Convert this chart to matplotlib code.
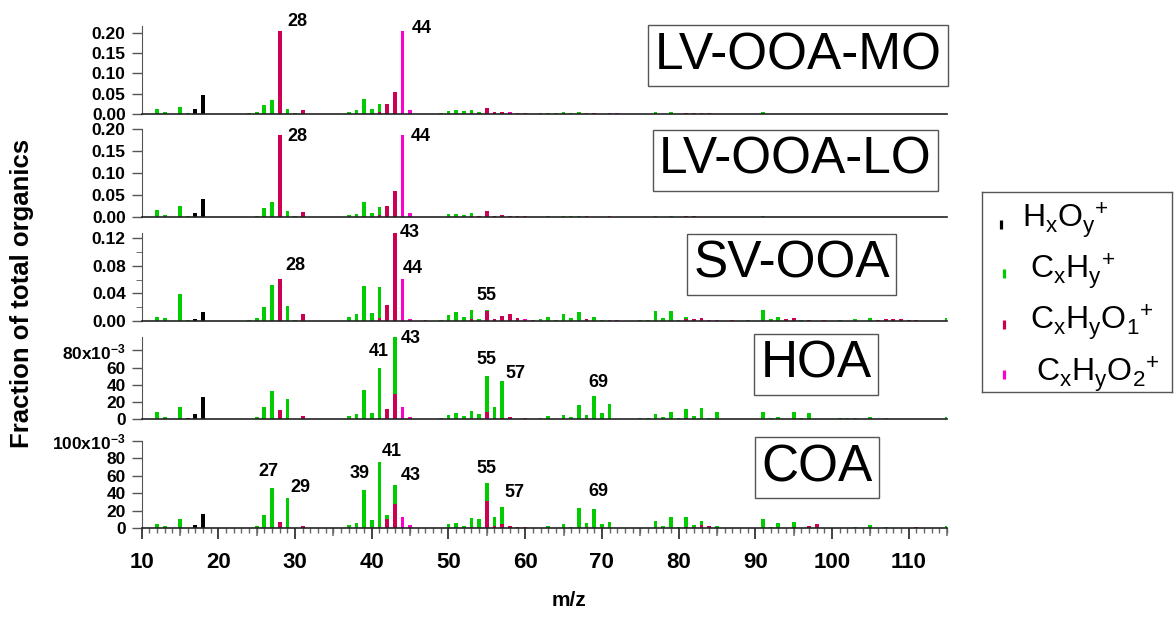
import numpy as np
import matplotlib
matplotlib.use("Agg")
import matplotlib.pyplot as plt
from matplotlib.ticker import FixedLocator, MultipleLocator, FixedFormatter

plt.rcParams['font.family'] = ['Liberation Sans', 'DejaVu Sans']
plt.rcParams['mathtext.fontset'] = 'custom'
plt.rcParams['mathtext.rm'] = 'Liberation Sans'
plt.rcParams['mathtext.it'] = 'Liberation Sans'
plt.rcParams['mathtext.bf'] = 'Liberation Sans:bold'

W, H = 1176, 619

# m/z range shown on the x axis
mz_min, mz_max = 10, 115
mz = np.arange(12, 116)

# ---- LV-OOA-MO ----
mo_ho = {16: 0.001, 17: 0.0116, 18: 0.046}
mo_ch = {12: 0.011, 13: 0.003, 15: 0.0166, 16: 0.001, 24: 0.001, 25: 0.005, 26: 0.0216,
         27: 0.034, 29: 0.011, 30: 0.002, 37: 0.005, 38: 0.009, 39: 0.0365, 40: 0.011,
         41: 0.019, 49: 0.001, 50: 0.007, 51: 0.009, 52: 0.006, 53: 0.007, 54: 0.002,
         62: 0.001, 63: 0.002, 64: 0.001, 65: 0.003, 66: 0.002, 67: 0.003, 69: 0.001,
         77: 0.003, 79: 0.003, 91: 0.003}
mo_cho1 = {28: 0.205, 31: 0.009, 41: 0.005, 42: 0.024, 43: 0.055, 53: 0.002, 54: 0.002,
           55: 0.014, 56: 0.004, 57: 0.004, 58: 0.002, 59: 0.001, 68: 0.002, 69: 0.001,
           81: 0.002, 83: 0.001}
mo_cho2 = {44: 0.205, 45: 0.008, 58: 0.001, 60: 0.002, 71: 0.002, 72: 0.001, 82: 0.002, 84: 0.001}

# ---- LV-OOA-LO ----
lo_ho = {16: 0.001, 17: 0.0098, 18: 0.042}
lo_ch = {12: 0.017, 13: 0.005, 15: 0.0265, 16: 0.003, 24: 0.001, 25: 0.004, 26: 0.0205,
         27: 0.034, 29: 0.015, 30: 0.002, 37: 0.005, 38: 0.008, 39: 0.034, 40: 0.010,
         41: 0.0185, 49: 0.001, 50: 0.007, 51: 0.007, 52: 0.005, 53: 0.007, 54: 0.002,
         63: 0.002, 64: 0.001, 65: 0.003, 66: 0.002, 67: 0.004, 77: 0.003, 78: 0.001,
         79: 0.003, 91: 0.003}
lo_cho1 = {28: 0.187, 31: 0.011, 41: 0.005, 42: 0.0257, 43: 0.060, 53: 0.002, 54: 0.002,
           55: 0.014, 56: 0.004, 57: 0.005, 58: 0.002, 59: 0.002, 68: 0.002, 69: 0.001,
           81: 0.002, 82: 0.002, 95: 0.001}
lo_cho2 = {44: 0.187, 45: 0.009, 58: 0.001, 60: 0.002, 71: 0.002, 83: 0.001, 85: 0.001, 94: 0.001}

# ---- SV-OOA ----
sv_ho = {17: 0.003, 18: 0.0135}
sv_ch = {12: 0.0058, 13: 0.0043, 15: 0.039, 16: 0.001, 24: 0.001, 25: 0.004, 26: 0.0197,
         27: 0.052, 29: 0.0216, 30: 0.002, 37: 0.0058, 38: 0.0096, 39: 0.0514, 40: 0.012,
         41: 0.0447, 49: 0.001, 50: 0.0087, 51: 0.013, 52: 0.0062, 53: 0.013, 54: 0.0034,
         55: 0.002, 62: 0.0024, 63: 0.0053, 64: 0.0015, 65: 0.0096, 66: 0.0038, 67: 0.0125,
         69: 0.0062, 70: 0.0015, 75: 0.001, 76: 0.0015, 77: 0.015, 78: 0.0038, 79: 0.014,
         80: 0.002, 81: 0.003, 89: 0.002, 91: 0.016, 92: 0.003, 93: 0.006, 96: 0.002,
         101: 0.002, 103: 0.003, 105: 0.005, 115: 0.004}
sv_cho1 = {28: 0.0615, 31: 0.0106, 41: 0.0043, 42: 0.0226, 43: 0.127, 53: 0.0024, 55: 0.0144,
           56: 0.0034, 57: 0.0067, 58: 0.0096, 59: 0.0043, 68: 0.0024, 81: 0.0034, 82: 0.003,
           83: 0.0043, 94: 0.003, 95: 0.005, 97: 0.001, 106: 0.001, 107: 0.003, 108: 0.003,
           109: 0.003, 110: 0.002, 111: 0.002}
sv_cho2 = {44: 0.0615, 45: 0.0034, 47: 0.001, 60: 0.0024, 61: 0.001, 71: 0.001, 72: 0.001,
           84: 0.001, 85: 0.0012, 87: 0.001, 99: 0.001}

# ---- HOA ----
hoa_ho = {16: 0.001, 17: 0.0062, 18: 0.0256}
hoa_ch = {12: 0.0085, 13: 0.0023, 15: 0.0143, 24: 0.0005, 25: 0.0023, 26: 0.0143, 27: 0.033,
          29: 0.0236, 30: 0.0005, 37: 0.0035, 38: 0.0058, 39: 0.034, 40: 0.0074, 41: 0.0577,
          43: 0.0662, 49: 0.001, 50: 0.0054, 51: 0.0074, 52: 0.0039, 53: 0.0082, 54: 0.0064,
          55: 0.0419, 56: 0.0128, 57: 0.0427, 62: 0.0015, 63: 0.0035, 64: 0.0005, 65: 0.005,
          66: 0.0027, 67: 0.017, 68: 0.0039, 69: 0.0275, 70: 0.0074, 71: 0.0182, 75: 0.001,
          76: 0.001, 77: 0.0066, 78: 0.0031, 79: 0.0085, 80: 0.0015, 81: 0.0109, 82: 0.0039,
          83: 0.0136, 84: 0.0015, 85: 0.0085, 91: 0.0081, 92: 0.0015, 93: 0.0027, 95: 0.0085,
          96: 0.0015, 97: 0.0074, 101: 0.0012, 102: 0.001, 103: 0.0015, 105: 0.0031,
          107: 0.0019, 115: 0.0023}
hoa_cho1 = {22: 0.0005, 28: 0.0112, 31: 0.0039, 41: 0.002, 42: 0.012, 43: 0.0298, 53: 0.0015,
            55: 0.0085, 56: 0.0015, 57: 0.0015, 58: 0.0025, 59: 0.0008, 68: 0.0015,
            81: 0.0015, 108: 0.0008}
hoa_cho2 = {44: 0.014, 45: 0.0027, 60: 0.0012}

# ---- COA ----
coa_ho = {16: 0.0008, 17: 0.0038, 18: 0.0165}
coa_ch = {12: 0.0049, 13: 0.0023, 15: 0.0105, 24: 0.0005, 25: 0.0026, 26: 0.015, 27: 0.0466,
          29: 0.0342, 30: 0.0005, 36: 0.0005, 37: 0.0034, 38: 0.0064, 39: 0.0436, 40: 0.0098,
          41: 0.0748, 42: 0.0049, 43: 0.0214, 49: 0.0008, 50: 0.0045, 51: 0.0066, 52: 0.0026,
          53: 0.0107, 54: 0.0109, 55: 0.0211, 56: 0.0106, 57: 0.0195, 62: 0.0008, 63: 0.0023,
          64: 0.0008, 65: 0.0049, 66: 0.0019, 67: 0.0233, 68: 0.0045, 69: 0.0218, 70: 0.0049,
          71: 0.0075, 74: 0.0005, 75: 0.0008, 76: 0.0008, 77: 0.0079, 78: 0.0026, 79: 0.0124,
          80: 0.0019, 81: 0.0105, 82: 0.0019, 83: 0.0045, 85: 0.0023, 91: 0.0105, 92: 0.001,
          93: 0.0056, 95: 0.0065, 96: 0.0008, 102: 0.0008, 103: 0.0015, 105: 0.0034,
          107: 0.0015, 115: 0.003}
coa_cho1 = {22: 0.0005, 28: 0.0075, 31: 0.003, 41: 0.0015, 42: 0.0101, 43: 0.0278, 53: 0.001,
            55: 0.0312, 56: 0.0026, 57: 0.0049, 58: 0.0026, 59: 0.001, 68: 0.0015, 81: 0.0019,
            82: 0.0015, 83: 0.0038, 84: 0.0026, 94: 0.0008, 95: 0.001, 97: 0.003, 98: 0.0053,
            111: 0.0011}
coa_cho2 = {44: 0.0135, 45: 0.0038, 46: 0.0008, 60: 0.0019, 99: 0.0005, 109: 0.0005}

factor_names = ['LV-OOA-MO', 'LV-OOA-LO', 'SV-OOA', 'HOA', 'COA']
spectra = [
    (mo_cho1, mo_cho2, mo_ch, mo_ho),
    (lo_cho1, lo_cho2, lo_ch, lo_ho),
    (sv_cho1, sv_cho2, sv_ch, sv_ho),
    (hoa_cho1, hoa_cho2, hoa_ch, hoa_ho),
    (coa_cho1, coa_cho2, coa_ch, coa_ho),
]
# labelled peaks: m/z, label offset in pixels (right, down) from the bar top
peak_labels = [
    [(28, 18, -10), (44, 19, -3)],
    [(28, 18, 1), (44, 18, 1)],
    [(43, 15, -1), (28, 16, -13), (44, 10, -10), (55, 0, -14)],
    [(41, -1, -16), (43, 16, 2), (55, 0, -16), (57, 13, -8), (69, 4, -13)],
    [(27, -4, -16), (29, 13, -11), (39, -4, -17), (41, 12, -10), (43, 16, -10),
     (55, 0, -14), (57, 12, -14), (69, 4, -18)],
]
y_tops = [0.218, 0.20, 0.127, 0.096, 0.100]
y_ticks = [[0, 0.05, 0.10, 0.15, 0.20],
           [0, 0.05, 0.10, 0.15, 0.20],
           [0, 0.04, 0.08, 0.12],
           [0, 0.02, 0.04, 0.06, 0.08],
           [0, 0.02, 0.04, 0.06, 0.08, 0.10]]
y_ticklabels = [['0.00', '0.05', '0.10', '0.15', '0.20'],
                ['0.00', '0.05', '0.10', '0.15', '0.20'],
                ['0.00', '0.04', '0.08', '0.12'],
                ['0', '20', '40', '60', r'80x10$^{\mathbf{-3}}$'],
                ['0', '20', '40', '60', '80', r'100x10$^{\mathbf{-3}}$']]

family_colors = ['#cc0052', '#ff00cc', '#00cc00', '#000000']
family_labels = [r'C$_\mathrm{x}$H$_\mathrm{y}$O$_\mathrm{1}$$^\mathrm{+}$',
                 r'C$_\mathrm{x}$H$_\mathrm{y}$O$_\mathrm{2}$$^\mathrm{+}$',
                 r'C$_\mathrm{x}$H$_\mathrm{y}$$^\mathrm{+}$',
                 r'H$_\mathrm{x}$O$_\mathrm{y}$$^\mathrm{+}$']

# panel extents in pixels (top, bottom) and name-box centres
panel_px = [(26, 113.7), (129.3, 217.3), (233.3, 321), (336.7, 419.3), (441, 528.3)]
name_px = [(798, 55.5), (795.5, 160.5), (791.5, 264.5), (816, 364.5), (817, 467.5)]
ax_left, ax_right = 141.7, 947

fig = plt.figure(figsize=(W / 100, H / 100), dpi=100)

axes = []
for i in range(5):
    top, bot = panel_px[i]
    ax = fig.add_axes([ax_left / W, 1 - bot / H, (ax_right - ax_left) / W, (bot - top) / H])
    axes.append(ax)
    bottom = np.zeros(len(mz))
    for fam, color in zip(spectra[i], family_colors):
        vals = np.array([fam.get(m, 0.0) for m in mz])
        ax.bar(mz, vals, bottom=bottom, width=0.5, color=color, linewidth=0)
        bottom = bottom + vals
    totals = dict(zip(mz, bottom))

    for m, dx, dy in peak_labels[i]:
        ax.annotate(str(m), xy=(m, totals[m]), xytext=(dx * 0.72, -dy * 0.72),
                    textcoords='offset points', ha='center', va='center',
                    fontsize=13, fontweight='bold')

    ax.set_xlim(mz_min, mz_max)
    ax.set_ylim(0, y_tops[i])
    ax.patch.set_alpha(0)
    for s in ['top', 'right']:
        ax.spines[s].set_visible(False)
    ax.spines['left'].set_color('#555555')
    ax.spines['bottom'].set_color('#222222')
    ax.spines['bottom'].set_linewidth(1.2)

    ax.yaxis.set_major_locator(FixedLocator(y_ticks[i]))
    ax.yaxis.set_major_formatter(FixedFormatter(y_ticklabels[i]))
    ax.tick_params(axis='y', length=7.5, width=1, color='#555555', pad=4,
                   labelsize=12.5)
    for lbl in ax.get_yticklabels():
        lbl.set_fontweight('bold')
    if i == 2:
        ax.yaxis.set_minor_locator(MultipleLocator(0.02))
        ax.tick_params(axis='y', which='minor', length=4, color='#555555')

    if i < 4:
        ax.tick_params(axis='x', which='both', bottom=False, labelbottom=False)
    else:
        ax.xaxis.set_major_locator(MultipleLocator(10))
        ax.xaxis.set_minor_locator(MultipleLocator(1))
        ax.tick_params(axis='x', which='major', length=8, width=1.2, color='#222222',
                       pad=9, labelsize=16)
        ax.tick_params(axis='x', which='minor', length=3.6, width=1, color='#666666')
        for lbl in ax.get_xticklabels():
            lbl.set_fontweight('bold')
        # half-decade ticks
        sec = ax.secondary_xaxis('bottom')
        sec.set_xticks(np.arange(15, 116, 10))
        sec.tick_params(length=6, width=1.2, color='#777777', labelbottom=False)
        sec.spines['bottom'].set_visible(False)

    cx, cy = name_px[i]
    fig.text(cx / W, 1 - cy / H, factor_names[i], fontsize=37, ha='center', va='center',
             bbox=dict(boxstyle='square,pad=0.12', fc='white', ec='#555555', lw=1))

fig.text(22 / W, 1 - 293 / H, 'Fraction of total organics', rotation=90, fontsize=18.5,
         fontweight='bold', ha='center', va='center')
fig.text(569 / W, 1 - 600 / H, 'm/z', fontsize=15, fontweight='bold', ha='center', va='center')

# legend box drawn in pixel units
lx0, ly0, lx1, ly1 = 982, 192, 1172, 392
leg = fig.add_axes([lx0 / W, 1 - ly1 / H, (lx1 - lx0) / W, (ly1 - ly0) / H])
leg.set_xlim(0, lx1 - lx0)
leg.set_ylim(ly1 - ly0, 0)
leg.set_xticks([])
leg.set_yticks([])
for s in leg.spines.values():
    s.set_color('#555555')
    s.set_linewidth(1)
leg_order = [3, 2, 0, 1]
leg_marker_x = [19, 22, 22, 22]
leg_marker_y = [32, 81, 132, 182]
leg_text_x = [40, 48, 48, 54]
leg_text_y = [35, 86, 138, 190]
for k, fi in enumerate(leg_order):
    leg.vlines(leg_marker_x[k], leg_marker_y[k] - 4.5, leg_marker_y[k] + 4.5,
               colors=family_colors[fi], lw=2.3)
    leg.text(leg_text_x[k], leg_text_y[k], family_labels[fi], fontsize=23,
             ha='left', va='baseline')

fig.savefig('out.png', dpi=100)
